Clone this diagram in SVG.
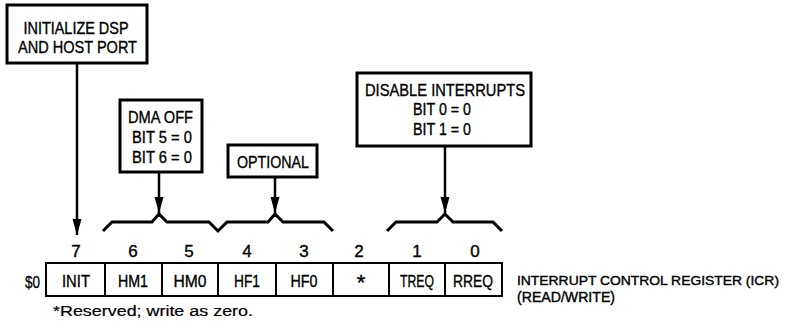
<svg xmlns="http://www.w3.org/2000/svg" width="785" height="322" viewBox="0 0 785 322">
<style>
text{font-family:"Liberation Sans",Arial,sans-serif;font-size:17px;fill:#000;stroke:#000;stroke-width:0.35}
.mid{text-anchor:middle}
.side{font-size:14.5px;stroke-width:0.4}
.long{font-size:13.5px}
.note{font-size:14px;stroke-width:0.2}
.box{fill:#fff;stroke:#000;stroke-width:3}
.cell{fill:#fff;stroke:#000;stroke-width:2}
.wire{fill:none;stroke:#000;stroke-width:2.5}
.brace{fill:none;stroke:#000;stroke-width:3;stroke-linejoin:miter}
</style>
<defs>
<marker id="ah" markerUnits="userSpaceOnUse" markerWidth="16" markerHeight="10" refX="16" refY="5" orient="auto">
<path d="M0,0.5 L16,5 L0,9.5 z" fill="#000"/>
</marker>
</defs>
<rect width="785" height="322" fill="#fff"/>

<g id="connectors">
<line class="wire" x1="77" y1="63" x2="77" y2="235" marker-end="url(#ah)"/>
<line class="wire" x1="159" y1="172" x2="159" y2="213" marker-end="url(#ah)"/>
<line class="wire" x1="275" y1="177" x2="275" y2="213" marker-end="url(#ah)"/>
<line class="wire" x1="445" y1="146" x2="445" y2="213" marker-end="url(#ah)"/>
<path class="brace" d="M103,231 L112,222 L152,222 L159,214 L167,222 L209,222 L218,231 L227,222 L268,222 L275,214 L283,222 L324,222 L333,231"/>
<path class="brace" d="M387,231 L396,222 L437,222 L445,214 L453,222 L493,222 L502,231"/>
</g>

<g id="node-init">
<rect class="box" x="7" y="5" width="140" height="58"/>
<text class="mid" x="76" y="34" textLength="105" lengthAdjust="spacingAndGlyphs">INITIALIZE DSP</text>
<text class="mid" x="77.5" y="53" textLength="119" lengthAdjust="spacingAndGlyphs">AND HOST PORT</text>
</g>

<g id="node-dma">
<rect class="box" x="120" y="100" width="82" height="72"/>
<text class="mid" x="160.5" y="123" textLength="65" lengthAdjust="spacingAndGlyphs">DMA OFF</text>
<text class="mid" x="162" y="143" textLength="60" lengthAdjust="spacingAndGlyphs">BIT 5 = 0</text>
<text class="mid" x="162" y="163" textLength="60" lengthAdjust="spacingAndGlyphs">BIT 6 = 0</text>
</g>

<g id="node-optional">
<rect class="box" x="228" y="145" width="89" height="32"/>
<text class="mid" x="273" y="168" textLength="72" lengthAdjust="spacingAndGlyphs">OPTIONAL</text>
</g>

<g id="node-disable">
<rect class="box" x="357" y="73" width="174" height="73"/>
<text class="mid" x="445" y="96" textLength="160" lengthAdjust="spacingAndGlyphs">DISABLE INTERRUPTS</text>
<text class="mid" x="442" y="115" textLength="58" lengthAdjust="spacingAndGlyphs">BIT 0 = 0</text>
<text class="mid" x="442" y="135" textLength="58" lengthAdjust="spacingAndGlyphs">BIT 1 = 0</text>
</g>

<g id="node-register">
<rect class="cell" x="46" y="263" width="456" height="33"/>
<line class="cell" x1="105" y1="263" x2="105" y2="296"/>
<line class="cell" x1="162" y1="263" x2="162" y2="296"/>
<line class="cell" x1="218" y1="263" x2="218" y2="296"/>
<line class="cell" x1="276" y1="263" x2="276" y2="296"/>
<line class="cell" x1="333" y1="263" x2="333" y2="296"/>
<line class="cell" x1="389" y1="263" x2="389" y2="296"/>
<line class="cell" x1="445" y1="263" x2="445" y2="296"/>

<text class="mid" x="76" y="257">7</text>
<text class="mid" x="133" y="257">6</text>
<text class="mid" x="189" y="257">5</text>
<text class="mid" x="247" y="257">4</text>
<text class="mid" x="304" y="257">3</text>
<text class="mid" x="359" y="257">2</text>
<text class="mid" x="417" y="257">1</text>
<text class="mid" x="475" y="257">0</text>

<text x="25" y="288" textLength="15" lengthAdjust="spacingAndGlyphs">$0</text>
<text class="mid" x="76" y="287" textLength="28" lengthAdjust="spacingAndGlyphs">INIT</text>
<text class="mid" x="133" y="287" textLength="30" lengthAdjust="spacingAndGlyphs">HM1</text>
<text class="mid" x="190" y="287" textLength="33" lengthAdjust="spacingAndGlyphs">HM0</text>
<text class="mid" x="247" y="287" textLength="26" lengthAdjust="spacingAndGlyphs">HF1</text>
<text class="mid" x="304" y="287" textLength="27" lengthAdjust="spacingAndGlyphs">HF0</text>
<text class="mid" x="361" y="290" style="font-size:22px">*</text>
<text class="mid" x="417" y="287" textLength="34" lengthAdjust="spacingAndGlyphs">TREQ</text>
<text class="mid" x="473" y="287" textLength="40" lengthAdjust="spacingAndGlyphs">RREQ</text>
</g>

<g id="labels">
<text class="side long" x="517" y="285" textLength="262" lengthAdjust="spacingAndGlyphs">INTERRUPT CONTROL REGISTER (ICR)</text>
<text class="side" x="517" y="302" textLength="98" lengthAdjust="spacingAndGlyphs">(READ/WRITE)</text>
<text class="note" x="53" y="316" textLength="200" lengthAdjust="spacingAndGlyphs">*Reserved; write as zero.</text>
</g>
</svg>
